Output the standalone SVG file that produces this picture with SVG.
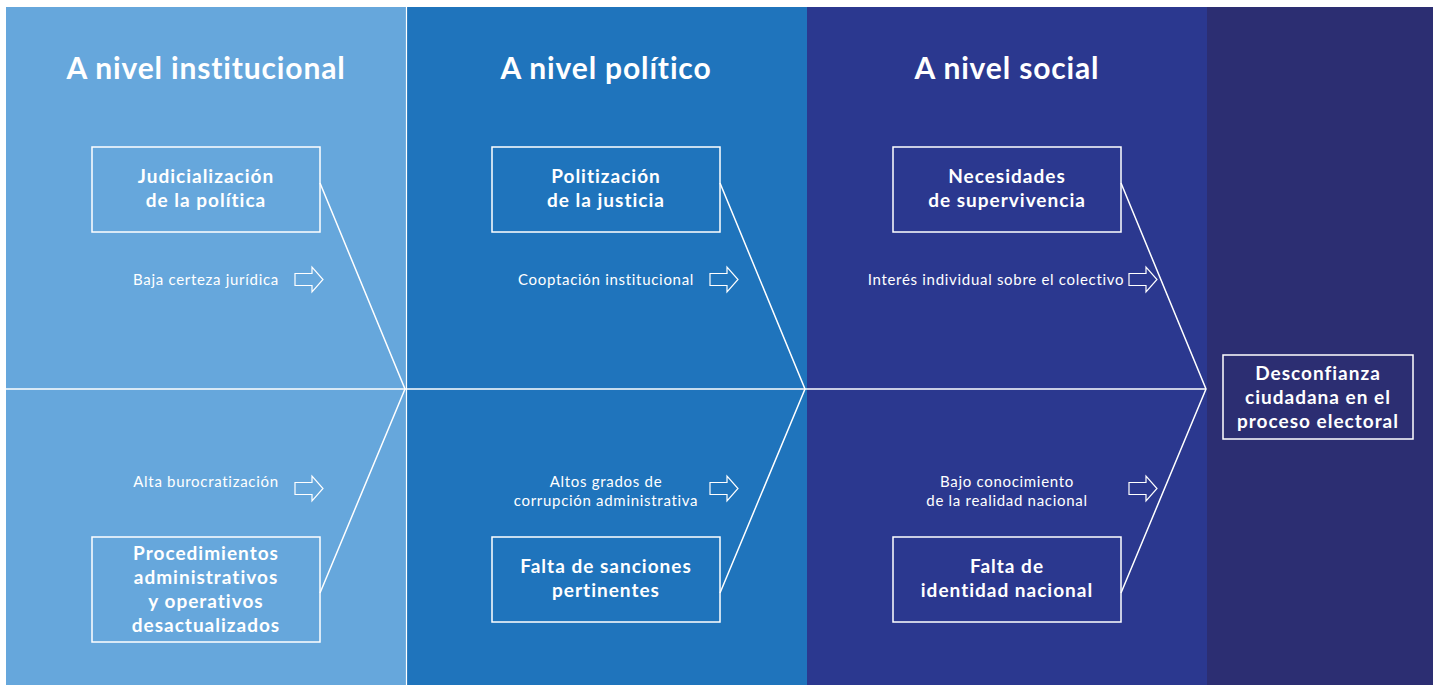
<svg xmlns="http://www.w3.org/2000/svg" width="1437" height="685" viewBox="0 0 1437 685">
<style>
.title{font-family:Lato,"Liberation Sans",sans-serif;font-weight:700;font-size:30px;letter-spacing:0.85px;fill:#fff;text-anchor:middle}
.box{fill:none;stroke:#fff;stroke-width:1.5}
.bt{font-family:Lato,"Liberation Sans",sans-serif;font-weight:700;font-size:19px;letter-spacing:1px;fill:#fff;text-anchor:middle}
.st{font-family:Lato,"Liberation Sans",sans-serif;font-size:15px;letter-spacing:0.7px;fill:#fff;text-anchor:middle}
.ln{stroke:#fff;stroke-width:1.5;fill:none}
.arr{fill:none;stroke:#fff;stroke-width:1.2;stroke-linejoin:miter}
</style>
<defs>
<path id="arrow" class="arr" d="M0,6.5 H17 V0 L28,12.5 L17,25 V18.5 H0 Z"/>
</defs>
<rect x="0" y="0" width="1437" height="685" fill="#fff"/>
<g id="background">
<rect x="6" y="7" width="400" height="678" fill="#66A7DC"/>
<rect x="407" y="7" width="400" height="678" fill="#1F74BC"/>
<rect x="807" y="7" width="400" height="678" fill="#2B388F"/>
<rect x="1207" y="7" width="226" height="678" fill="#2C2E72"/>
<line x1="406.5" y1="7" x2="406.5" y2="685" stroke="#fff" stroke-width="1.2"/>
</g>
<g id="titles">
<text class="title" x="206" y="79">A nivel institucional</text>
<text class="title" x="606" y="79">A nivel político</text>
<text class="title" x="1007" y="79">A nivel social</text>
</g>
<g id="connectors">
<line class="ln" x1="6" y1="389" x2="1206" y2="389"/>
<polyline class="ln" points="320,183 405,389 320,593"/>
<polyline class="ln" points="720,183 805,389 720,593"/>
<polyline class="ln" points="1121,183 1206,389 1121,593"/>
<use href="#arrow" x="295" y="267"/>
<use href="#arrow" x="710" y="267"/>
<use href="#arrow" x="1129" y="267"/>
<use href="#arrow" x="295" y="476"/>
<use href="#arrow" x="710" y="476"/>
<use href="#arrow" x="1129" y="476"/>
</g>
<g id="node-judicializacion">
<rect class="box" x="92" y="147" width="228" height="85"/>
<text class="bt" x="206" y="183">Judicialización</text>
<text class="bt" x="206" y="207">de la política</text>
</g>
<g id="node-procedimientos">
<rect class="box" x="92" y="537" width="228" height="105"/>
<text class="bt" x="206" y="560">Procedimientos</text>
<text class="bt" x="206" y="584">administrativos</text>
<text class="bt" x="206" y="608">y operativos</text>
<text class="bt" x="206" y="632">desactualizados</text>
</g>
<g id="node-politizacion">
<rect class="box" x="492" y="147" width="228" height="85"/>
<text class="bt" x="606" y="183">Politización</text>
<text class="bt" x="606" y="207">de la justicia</text>
</g>
<g id="node-sanciones">
<rect class="box" x="492" y="537" width="228" height="85"/>
<text class="bt" x="606" y="573">Falta de sanciones</text>
<text class="bt" x="606" y="597">pertinentes</text>
</g>
<g id="node-necesidades">
<rect class="box" x="893" y="147" width="228" height="85"/>
<text class="bt" x="1007" y="183">Necesidades</text>
<text class="bt" x="1007" y="207">de supervivencia</text>
</g>
<g id="node-identidad">
<rect class="box" x="893" y="537" width="228" height="85"/>
<text class="bt" x="1007" y="573">Falta de</text>
<text class="bt" x="1007" y="597">identidad nacional</text>
</g>
<g id="node-desconfianza">
<rect class="box" x="1223" y="355" width="190" height="84"/>
<text class="bt" x="1318" y="380">Desconfianza</text>
<text class="bt" x="1318" y="404">ciudadana en el</text>
<text class="bt" x="1318" y="428">proceso electoral</text>
</g>
<g id="labels">
<text class="st" x="206" y="285">Baja certeza jurídica</text>
<text class="st" x="606" y="285">Cooptación institucional</text>
<text class="st" x="996" y="285">Interés individual sobre el colectivo</text>
<text class="st" x="206" y="487">Alta burocratización</text>
<text class="st" x="606" y="487">Altos grados de</text>
<text class="st" x="606" y="506">corrupción administrativa</text>
<text class="st" x="1007" y="487">Bajo conocimiento</text>
<text class="st" x="1007" y="506">de la realidad nacional</text>
</g>
</svg>
